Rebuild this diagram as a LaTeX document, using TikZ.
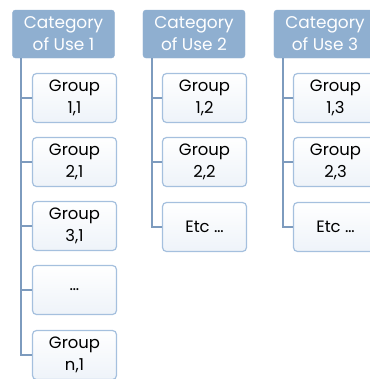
\documentclass[tikz,border=0pt]{standalone}
\usepackage{fontspec}
\setmainfont{Poppins}
\definecolor{headblue}{RGB}{143,175,208}
\definecolor{boxedge}{RGB}{165,192,222}
\definecolor{linkblue}{RGB}{125,155,190}
\definecolor{boxshade}{RGB}{238,243,249}

\begin{document}
\begin{tikzpicture}[x=1bp,y=-1bp,
    header/.style={draw=headblue,fill=headblue,rounded corners=3bp,minimum width=102bp,minimum height=48bp,
      text=white,align=center,inner sep=0pt,font=\fontsize{17}{22}\selectfont},
    groupbox/.style={draw=boxedge,line width=1.2bp,top color=white,bottom color=boxshade,rounded corners=4bp,
      minimum width=84bp,minimum height=49bp,align=center,inner sep=0pt,font=\fontsize{16.5}{22}\selectfont},
    link/.style={draw=linkblue,line width=1.3bp}]
  \useasboundingbox (0,0) rectangle (370,379);
  \begin{scope}
  \clip (0,0) rectangle (370,379);
  % Headers
  \node[header] (cat1) at (63.5,34) {Category\\of Use 1};
  \node[header] (cat2) at (194,34) {Category\\of Use 2};
  \node[header] (cat3) at (325,34) {Category\\of Use 3};
  % Column 1
  \node[groupbox] (g11) at (74.5,98) {Group\\1,1};
  \node[groupbox] (g21) at (74.5,162) {Group\\2,1};
  \node[groupbox] (g31) at (74.5,226) {Group\\3,1};
  \node[groupbox] (dots1) at (74.5,290) {\dots};
  \node[groupbox] (gn1) at (74.5,355) {Group\\n,1};
  % Column 2
  \node[groupbox] (g12) at (204.5,98) {Group\\1,2};
  \node[groupbox] (g22) at (204.5,162) {Group\\2,2};
  \node[groupbox] (etc2) at (204.5,227) {Etc \dots};
  % Column 3
  \node[groupbox] (g13) at (335.5,98) {Group\\1,3};
  \node[groupbox] (g23) at (335.5,162) {Group\\2,3};
  \node[groupbox] (etc3) at (335.5,227) {Etc \dots};
  % Links
  \draw[link] (cat1.south -| 21,0) |- (gn1.west);
  \draw[link] (21,0 |- g11.west) -- (g11.west);
  \draw[link] (21,0 |- g21.west) -- (g21.west);
  \draw[link] (21,0 |- g31.west) -- (g31.west);
  \draw[link] (21,0 |- dots1.west) -- (dots1.west);
  \draw[link] (cat2.south -| 152,0) |- (etc2.west);
  \draw[link] (152,0 |- g12.west) -- (g12.west);
  \draw[link] (152,0 |- g22.west) -- (g22.west);
  \draw[link] (cat3.south -| 283,0) |- (etc3.west);
  \draw[link] (283,0 |- g13.west) -- (g13.west);
  \draw[link] (283,0 |- g23.west) -- (g23.west);
  \end{scope}
\end{tikzpicture}
\end{document}
